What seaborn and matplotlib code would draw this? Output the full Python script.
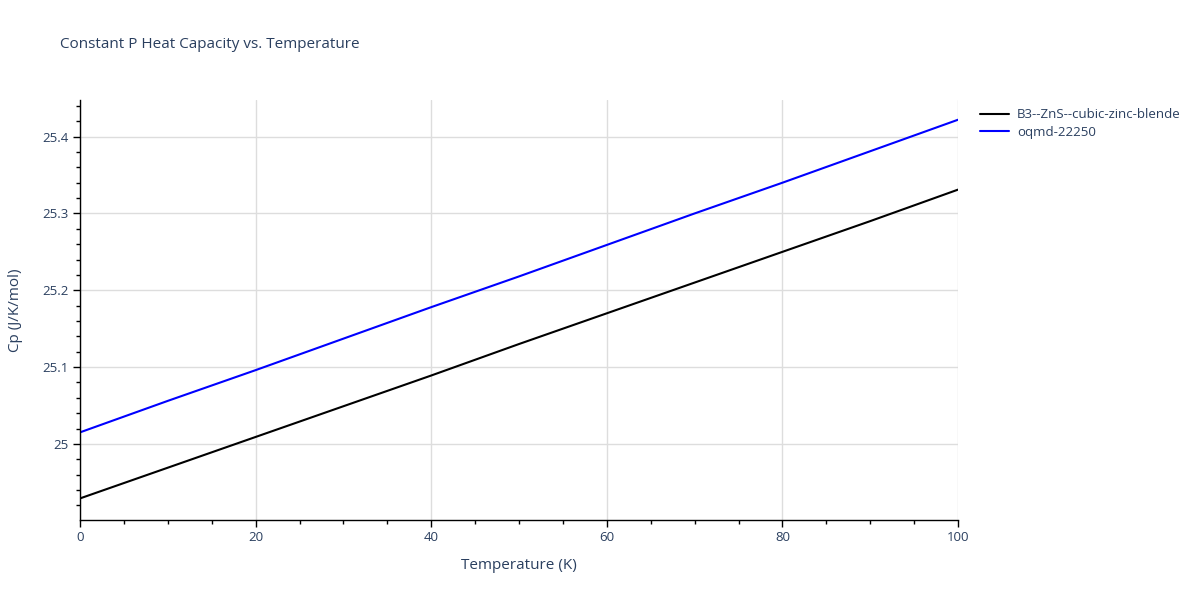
import matplotlib
matplotlib.use("Agg")
import matplotlib.pyplot as plt
from matplotlib.ticker import MultipleLocator
import seaborn as sns
import pandas as pd

temperature = [0, 10, 20, 30, 40, 50, 60, 70, 80, 90, 100]
cp_zns = [24.929, 24.969, 25.009, 25.049, 25.089, 25.130, 25.170, 25.210, 25.250, 25.290, 25.331]
cp_oqmd = [25.015, 25.056, 25.096, 25.137, 25.178, 25.218, 25.259, 25.300, 25.340, 25.381, 25.422]
series_names = ["B3--ZnS--cubic-zinc-blende", "oqmd-22250"]
colors = ["#000000", "#0000ff"]

df = pd.DataFrame({
    "Temperature": temperature * 2,
    "Cp": cp_zns + cp_oqmd,
    "series": [series_names[0]] * len(temperature) + [series_names[1]] * len(temperature),
})

sns.set_style("white")
plt.rcParams["font.family"] = ["Open Sans", "DejaVu Sans"]
txt = "#2a3f5f"

fig = plt.figure(figsize=(12, 6), dpi=100)
ax = fig.add_axes([80 / 1200, 1 - 520 / 600, 878 / 1200, 420 / 600])
sns.lineplot(data=df, x="Temperature", y="Cp", hue="series", palette=colors,
             linewidth=1.5, ax=ax, legend=True)

ax.set_xlim(0, 100)
ax.set_ylim(24.9009, 25.4477)
ax.xaxis.set_major_locator(MultipleLocator(20))
ax.xaxis.set_minor_locator(MultipleLocator(5))
ax.yaxis.set_major_locator(MultipleLocator(0.1))
ax.yaxis.set_minor_locator(MultipleLocator(0.02))
ax.set_yticks([25.0, 25.1, 25.2, 25.3, 25.4])
ax.set_yticklabels(["25", "25.1", "25.2", "25.3", "25.4"])
ax.grid(True, which="major", color="#dddddd", linewidth=1)
ax.set_axisbelow(True)
for s in ["top", "right"]:
    ax.spines[s].set_visible(False)
for s in ["left", "bottom"]:
    ax.spines[s].set_color("#000000")
    ax.spines[s].set_linewidth(1)
ax.tick_params(axis="both", which="major", direction="out", length=5, width=1,
               color="#000000", labelcolor=txt, labelsize=9.5, pad=3)
ax.tick_params(axis="both", which="minor", direction="out", length=3, width=1,
               color="#000000")
ax.tick_params(axis="x", bottom=True, which="both")
ax.tick_params(axis="y", left=True, which="both")
ax.set_xlabel("Temperature (K)", color=txt, fontsize=11, labelpad=10)
ax.set_ylabel("Cp (J/K/mol)", color=txt, fontsize=11, labelpad=14)

fig.text(60 / 1200, 1 - 45 / 600, "Constant P Heat Capacity vs. Temperature",
         color=txt, fontsize=11, va="center", ha="left")

leg = ax.legend(loc="upper left", bbox_to_anchor=(975 / 1200, 1 - 103 / 600),
                bbox_transform=fig.transFigure, frameon=False, fontsize=9.5,
                handlelength=2.2, handletextpad=0.6, labelspacing=0.35,
                borderaxespad=0)
for t in leg.get_texts():
    t.set_color(txt)

fig.savefig("out.png", dpi=100)
